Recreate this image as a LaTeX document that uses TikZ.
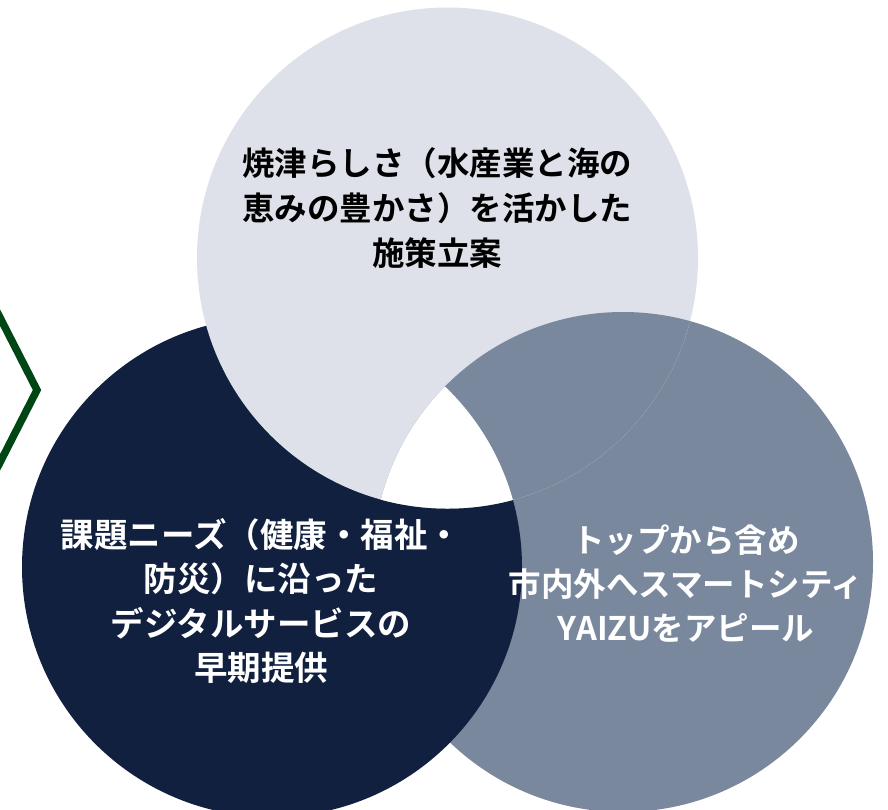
\documentclass[tikz,border=0pt]{standalone}
\usepackage{fontspec}
\setmainfont{Noto Sans CJK JP}[BoldFont={Noto Sans CJK JP Bold}]
\definecolor{lightc}{RGB}{222,225,233}
\definecolor{slatec}{RGB}{122,136,158}
\definecolor{navyc}{RGB}{17,32,62}
\definecolor{greenc}{RGB}{0,70,20}
\tikzset{
  lbl/.style={align=center,inner sep=0pt},
}
\begin{document}
\begin{tikzpicture}[x=1pt,y=-1pt]
\useasboundingbox (0,0) rectangle (888,809);
\def\Lc{(447.5,258) circle (250.5)}
\def\Dc{(272,567) circle (250)}
\def\Sc{(623,562) circle (250)}
\fill[slatec] \Sc;
\fill[navyc] \Dc;
\fill[lightc] \Lc;
\begin{scope}
  \clip \Lc;
  \fill[slatec] \Sc;
  \clip \Dc;
  \fill[white] \Sc;
\end{scope}
\coordinate (c1) at (-10,298);
\coordinate (c2) at (37,390);
\coordinate (c3) at (-10,482);
\draw[greenc,line width=7.5pt,miter limit=10] (c1) -- (c2) -- (c3);
\node[lbl,text=black,font=\bfseries\fontsize{32.5}{45}\selectfont] (top) at (437,208) {焼津らしさ（水産業と海の\\恵みの豊かさ）を活かした\\施策立案};
\node[lbl,text=white,font=\bfseries\fontsize{33.5}{44.5}\selectfont] (left) at (261,601) {課題ニーズ（健康・福祉・\\防災）に沿った\\デジタルサービスの\\早期提供};
\node[lbl,text=white,font=\bfseries\fontsize{32.5}{44}\selectfont] (right) at (686,584) {トップから含め\\市内外へスマートシティ\\YAIZUをアピール};
\end{tikzpicture}
\end{document}
